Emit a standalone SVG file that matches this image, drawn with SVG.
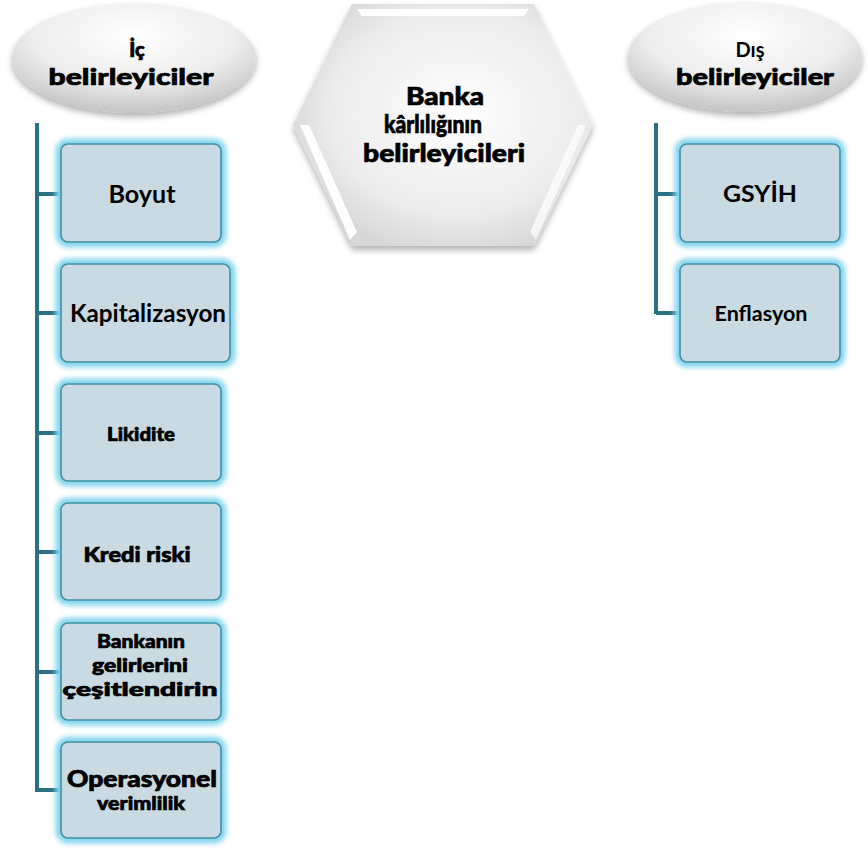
<svg xmlns="http://www.w3.org/2000/svg" width="868" height="853" viewBox="0 0 868 853">
<defs>
<style>
.t{font-family:"Lato","Open Sans","Liberation Sans",sans-serif;font-weight:900;fill:#000;text-anchor:middle}
.h{stroke:#000;stroke-width:0.7}
.box{fill:#c9dae2;stroke:#3f90a8;stroke-width:1.6}
.glow{fill:none;stroke:#86d6ef;stroke-width:11;filter:url(#blur)}
.conn{stroke:#2b7183;stroke-width:4;fill:none}
</style>
<filter id="blur" x="-20%" y="-20%" width="140%" height="140%"><feGaussianBlur stdDeviation="2.8"/></filter>
<filter id="shadow" x="-20%" y="-20%" width="140%" height="150%"><feDropShadow dx="0" dy="4" stdDeviation="3" flood-color="#000" flood-opacity="0.3"/></filter>
<radialGradient id="ell" cx="0.5" cy="0.3" r="0.7">
<stop offset="0" stop-color="#ffffff"/><stop offset="0.6" stop-color="#ededed"/><stop offset="1" stop-color="#c4c4c4"/>
</radialGradient>
<radialGradient id="hex" cx="0.55" cy="0.45" r="0.6">
<stop offset="0" stop-color="#ffffff"/><stop offset="0.7" stop-color="#ececec"/><stop offset="1" stop-color="#d6d6d6"/>
</radialGradient>
</defs>

<g id="connectors">
<path class="conn" d="M37 123 V792 M37 194 H61 M37 313 H61 M37 433 H61 M37 552 H61 M37 672 H61 M37 790 H61"/>
<path class="conn" d="M656 123 V314 M656 194 H680 M656 313 H680"/>
</g>

<g id="hexagon">
<polygon points="352,4 534,4 593,125 534,246 352,246 293,125" fill="url(#hex)" filter="url(#shadow)"/>
<polygon points="357,9 529,9 524,16 362,16" fill="#ffffff"/>
<polygon points="300,125 309,125 357,232 350,240" fill="#ffffff" opacity="0.95"/>
<polygon points="586,125 578,125 530,232 536,240" fill="#ffffff" opacity="0.7"/>
<text class="t h" x="445" y="105" font-size="24" textLength="78" lengthAdjust="spacingAndGlyphs">Banka</text>
<text class="t h" x="433" y="133" font-size="24" textLength="98" lengthAdjust="spacingAndGlyphs">kârlılığının</text>
<text class="t h" x="444" y="162" font-size="24" textLength="162" lengthAdjust="spacingAndGlyphs">belirleyicileri</text>
</g>

<g id="ic-belirleyiciler">
<ellipse cx="134" cy="58" rx="122" ry="55" fill="url(#ell)" filter="url(#shadow)"/>
<text class="t h" x="137" y="57" font-size="20">İç</text>
<text class="t h" x="131" y="85" font-size="23" textLength="165" lengthAdjust="spacingAndGlyphs">belirleyiciler</text>
</g>

<g id="dis-belirleyiciler">
<ellipse cx="745" cy="57" rx="117" ry="55" fill="url(#ell)" filter="url(#shadow)"/>
<text class="t" x="750" y="57" font-size="20" style="font-weight:700">Dış</text>
<text class="t h" x="755" y="85" font-size="23" textLength="158" lengthAdjust="spacingAndGlyphs">belirleyiciler</text>
</g>

<g id="boyut">
<rect class="glow" x="61" y="144" width="160" height="98" rx="7"/>
<rect class="box" x="61" y="144" width="160" height="98" rx="7"/>
<text class="t" x="142" y="203" font-size="25" style="font-weight:700" textLength="67" lengthAdjust="spacingAndGlyphs">Boyut</text>
</g>

<g id="kapitalizasyon">
<rect class="glow" x="61" y="264" width="169" height="98" rx="7"/>
<rect class="box" x="61" y="264" width="169" height="98" rx="7"/>
<text class="t" x="148" y="322" font-size="24" style="font-weight:700" textLength="156" lengthAdjust="spacingAndGlyphs">Kapitalizasyon</text>
</g>

<g id="likidite">
<rect class="glow" x="61" y="384" width="160" height="97" rx="7"/>
<rect class="box" x="61" y="384" width="160" height="97" rx="7"/>
<text class="t h" x="141" y="441" font-size="19" textLength="68" lengthAdjust="spacingAndGlyphs">Likidite</text>
</g>

<g id="kredi-riski">
<rect class="glow" x="61" y="503" width="160" height="97" rx="7"/>
<rect class="box" x="61" y="503" width="160" height="97" rx="7"/>
<text class="t h" x="137" y="562" font-size="21" textLength="107" lengthAdjust="spacingAndGlyphs">Kredi riski</text>
</g>

<g id="bankanin-gelirleri">
<rect class="glow" x="61" y="623" width="160" height="97" rx="7"/>
<rect class="box" x="61" y="623" width="160" height="97" rx="7"/>
<text class="t h" x="141" y="648" font-size="19" textLength="88" lengthAdjust="spacingAndGlyphs">Bankanın</text>
<text class="t h" x="140" y="672" font-size="19" textLength="96" lengthAdjust="spacingAndGlyphs">gelirlerini</text>
<text class="t h" x="140" y="696" font-size="19" textLength="155" lengthAdjust="spacingAndGlyphs">çeşitlendirin</text>
</g>

<g id="operasyonel-verimlilik">
<rect class="glow" x="61" y="742" width="160" height="96" rx="7"/>
<rect class="box" x="61" y="742" width="160" height="96" rx="7"/>
<text class="t h" x="142" y="787" font-size="22" textLength="150" lengthAdjust="spacingAndGlyphs">Operasyonel</text>
<text class="t h" x="141" y="810" font-size="19" textLength="88" lengthAdjust="spacingAndGlyphs">verimlilik</text>
</g>

<g id="gsyih">
<rect class="glow" x="680" y="144" width="160" height="98" rx="7"/>
<rect class="box" x="680" y="144" width="160" height="98" rx="7"/>
<text class="t" x="760" y="202" font-size="22" style="font-weight:700" textLength="74" lengthAdjust="spacingAndGlyphs">GSYİH</text>
</g>

<g id="enflasyon">
<rect class="glow" x="680" y="264" width="160" height="98" rx="7"/>
<rect class="box" x="680" y="264" width="160" height="98" rx="7"/>
<text class="t" x="761" y="321" font-size="20" style="font-weight:700" textLength="93" lengthAdjust="spacingAndGlyphs">Enflasyon</text>
</g>
</svg>
